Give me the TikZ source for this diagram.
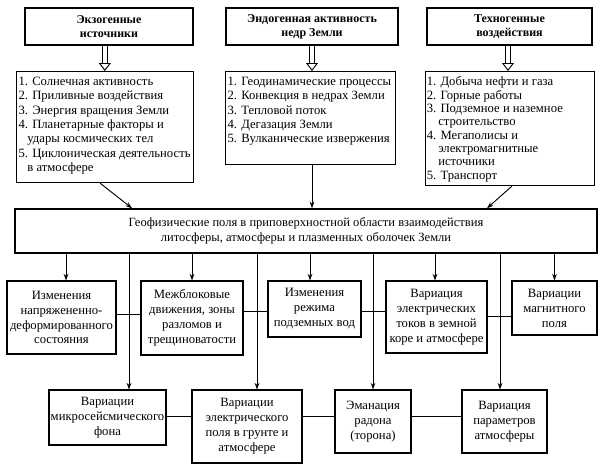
\documentclass[tikz,border=0pt]{standalone}
\usepackage{fontspec}
\setmainfont{Liberation Serif}
\usetikzlibrary{arrows.meta, positioning}

\begin{document}
\begin{tikzpicture}[x=0.75pt, y=-0.75pt, >={Stealth[length=5pt, width=3.5pt]},
    head/.style={draw, line width=1.1pt, align=center, inner sep=0pt, font=\fontsize{9}{10.5}\selectfont\bfseries},
    list/.style={draw, line width=0.8pt, anchor=north west, inner xsep=1.5pt, inner ysep=4pt, font=\fontsize{9.5}{10.8}\selectfont},
    geobox/.style={draw, line width=1.1pt, align=center, inner sep=0pt, font=\fontsize{9.4}{11.5}\selectfont},
    effect/.style={draw, line width=0.8pt, align=center, inner sep=0pt, font=\fontsize{9.5}{11.2}\selectfont},
    link/.style={line width=0.7pt, ->},
    wire/.style={line width=0.7pt},
    hollow/.style={double, double distance=3pt, line width=0.7pt, -{Triangle[open, length=6pt, width=9pt]}}]

    \useasboundingbox (0,0) rectangle (605,471);

    % Sources
    \node[head, minimum width=126pt, minimum height=27.75pt] (exo) at (109,26.5) {Экзогенные\\источники};
    \node[head, minimum width=129pt, minimum height=27.75pt] (endo) at (312,26.5) {Эндогенная активность\\недр Земли};
    \node[head, minimum width=123.75pt, minimum height=27.75pt] (techno) at (509.5,26.5) {Техногенные\\воздействия};

    % Lists
    \node[list] (exolist) at (16,71) {\parbox[c][75.25pt][t]{129.5pt}{1. Солнечная активность\\
        2. Приливные воздействия\\
        3. Энергия вращения Земли\\
        4. Планетарные факторы и\\
        \hspace*{0.7em}удары космических тел\\
        5. Циклоническая деятельность\\
        \hspace*{0.7em}в атмосфере}};
    \node[list] (endolist) at (225,71) {\parbox[c][61.75pt][t]{124.5pt}{1. Геодинамические процессы\\
        2. Конвекция в недрах Земли\\
        3. Тепловой поток\\
        4. Дегазация Земли\\
        5. Вулканические извержения}};
    \node[list, inner xsep=1pt, font=\fontsize{9.5}{10}\selectfont] (technolist) at (425,71) {\parbox[c][77.5pt][t]{124.5pt}{1. Добыча нефти и газа\\
        2. Горные работы\\
        3. Подземное и наземное\\
        \hspace*{0.9em}строительство\\
        4. Мегаполисы и\\
        \hspace*{0.9em}электромагнитные\\
        \hspace*{0.9em}источники\\
        5. Транспорт}};

    % Geophysical fields
    \node[geobox, minimum width=436.5pt, minimum height=33pt] (geo) at (306,231) {Геофизические поля в приповерхностной области взаимодействия\\литосферы, атмосферы и плазменных оболочек Земли};

    % Middle row
    \node[effect, minimum width=81.75pt, minimum height=54.75pt] (stress) at (61.5,317.5) {Изменения\\напряжененно-\\деформированного\\состояния};
    \node[effect, minimum width=76.5pt, minimum height=55.5pt] (blocks) at (192,318) {Межблоковые\\движения, зоны\\разломов и\\трещиноватости};
    \node[effect, minimum width=69.75pt, minimum height=42pt] (water) at (314.5,309) {Изменения\\режима\\подземных вод};
    \node[effect, minimum width=75.75pt, minimum height=54pt] (currents) at (436.5,317) {Вариация\\электрических\\токов в земной\\коре и атмосфере};
    \node[effect, minimum width=63.75pt, minimum height=40.5pt] (magnet) at (554.5,308) {Вариации\\магнитного\\поля};

    % Bottom row
    \node[effect, minimum width=87.75pt, minimum height=41.25pt] (seism) at (107.5,417.5) {Вариации\\микросейсмического\\фона};
    \node[effect, minimum width=82.5pt, minimum height=54.75pt] (efield) at (247,426.5) {Вариации\\электрического\\поля в грунте и\\атмосфере};
    \node[effect, minimum width=57pt, minimum height=47.25pt] (radon) at (373,421.5) {Эманация\\радона\\(торона)};
    \node[effect, minimum width=63.75pt, minimum height=47.25pt] (atmo) at (504.5,421.5) {Вариация\\параметров\\атмосферы};

    % Connections
    \draw[hollow] (exo.south -| exolist.north) -- (exolist.north);
    \draw[hollow] (endo.south) -- (endo.south |- endolist.north);
    \draw[hollow] (techno.south -| 508,0) -- (technolist.north -| 508,0);

    \draw[link] (exolist.south -| 100,0) -- (geo.north -| 132,0);
    \draw[link] (endolist.south -| 312,0) -- (geo.north -| 312,0);
    \draw[link] (technolist.south -| 512,0) -- (geo.north -| 487,0);

    \draw[link] (geo.south -| 66,0) -- (stress.north -| 66,0);
    \draw[link] (geo.south -| blocks.north) -- (blocks.north);
    \draw[link] (geo.south -| 310,0) -- (water.north -| 310,0);
    \draw[link] (geo.south -| 435,0) -- (currents.north -| 435,0);
    \draw[link] (geo.south -| magnet.north) -- (magnet.north);

    \draw[link] (geo.south -| 129,0) -- (seism.north -| 129,0);
    \draw[link] (geo.south -| 257,0) -- (efield.north -| 257,0);
    \draw[link] (geo.south -| radon.north) -- (radon.north);
    \draw[link] (geo.south -| 500,0) -- (atmo.north -| 500,0);

    \draw[wire] (stress.east |- 0,314) -- (blocks.west |- 0,314);
    \draw[wire] (blocks.east |- 0,311) -- (water.west |- 0,311);
    \draw[wire] (water.east |- 0,311) -- (currents.west |- 0,311);
    \draw[wire] (currents.east |- 0,316) -- (magnet.west |- 0,316);

    \draw[wire] (seism.east |- 0,416) -- (efield.west |- 0,416);
    \draw[wire] (efield.east |- 0,416) -- (radon.west |- 0,416);
    \draw[wire] (radon.east |- 0,416) -- (atmo.west |- 0,416);
\end{tikzpicture}
\end{document}
